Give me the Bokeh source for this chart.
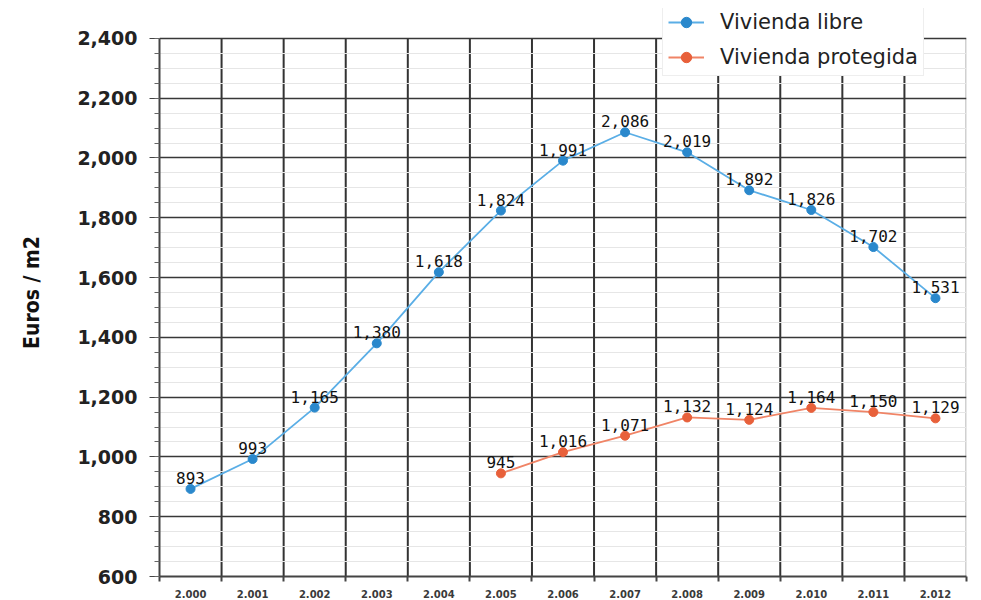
from bokeh.plotting import figure
from bokeh.models import FixedTicker, ColumnDataSource, LabelSet, Legend, LegendItem
from bokeh.core.properties import value
from bokeh.embed import file_html
from bokeh.resources import INLINE

years = ["2.000", "2.001", "2.002", "2.003", "2.004", "2.005", "2.006",
         "2.007", "2.008", "2.009", "2.010", "2.011", "2.012"]
libre = [893, 993, 1165, 1380, 1618, 1824, 1991, 2086, 2019, 1892, 1826, 1702, 1531]
protegida_years = ["2.005", "2.006", "2.007", "2.008", "2.009", "2.010", "2.011", "2.012"]
protegida = [945, 1016, 1071, 1132, 1124, 1164, 1150, 1129]
y_ticks = [600, 800, 1000, 1200, 1400, 1600, 1800, 2000, 2200, 2400]

xi = list(range(len(years)))
xp = [years.index(y) for y in protegida_years]
bounds_x = [i - 0.5 for i in range(len(years) + 1)]
y_lo, y_hi = y_ticks[0], y_ticks[-1]

def fmt(v):
    return f"{v:,}"

src_l = ColumnDataSource(dict(x=xi, y=libre, t=[fmt(v) for v in libre]))
src_p = ColumnDataSource(dict(x=xp, y=protegida, t=[fmt(v) for v in protegida]))

p = figure(width=975, height=600, output_backend="svg", toolbar_location=None,
           x_range=(-0.5, len(years) - 0.5), y_range=(y_lo, y_hi + 100),
           min_border_left=159, min_border_right=9, min_border_top=8, min_border_bottom=20)
p.outline_line_color = None
p.background_fill_color = "white"
p.border_fill_color = "white"

# x axis
xt = FixedTicker(ticks=xi, minor_ticks=bounds_x)
p.xaxis.ticker = xt
p.xaxis.major_label_overrides = {i: y for i, y in enumerate(years)}
p.xaxis.major_tick_line_color = None
p.xaxis.major_tick_in = 0
p.xaxis.major_tick_out = 0
p.xaxis.minor_tick_in = 0
p.xaxis.minor_tick_out = 5
p.xaxis.minor_tick_line_color = "#444444"
p.xaxis.minor_tick_line_width = 2
p.xaxis.axis_line_color = "#444444"
p.xaxis.axis_line_width = 2
p.xaxis.major_label_text_font = "DejaVu Sans"
p.xaxis.major_label_text_font_style = "bold"
p.xaxis.major_label_text_font_size = "10px"
p.xaxis.major_label_text_color = "#3a3a3a"
p.xaxis.major_label_standoff = 8

p.xgrid.grid_line_color = None

# vertical grid lines between categories (only between the y-axis limits)
p.segment(x0=bounds_x[1:-1], y0=[y_lo] * (len(bounds_x) - 2),
          x1=bounds_x[1:-1], y1=[y_hi] * (len(bounds_x) - 2),
          line_color="#333333", line_width=2, level="underlay")
p.segment(x0=[bounds_x[-1]], y0=[y_lo], x1=[bounds_x[-1]], y1=[y_hi],
          line_color="#d0d0d0", line_width=3, level="underlay")

# y axis
yt = FixedTicker(ticks=y_ticks, minor_ticks=list(range(y_lo, y_hi + 1, 50)))
p.yaxis.ticker = yt
p.yaxis.bounds = (y_lo, y_hi)
p.yaxis.major_label_overrides = {v: fmt(v) for v in y_ticks}
p.yaxis.major_label_text_font = "DejaVu Sans"
p.yaxis.major_label_text_font_style = "bold"
p.yaxis.major_label_text_font_size = "19px"
p.yaxis.major_label_text_color = "#222222"
p.yaxis.major_label_standoff = 12
p.yaxis.major_tick_in = 0
p.yaxis.major_tick_out = 10
p.yaxis.minor_tick_in = 0
p.yaxis.minor_tick_out = 5
p.yaxis.major_tick_line_color = "#444444"
p.yaxis.minor_tick_line_color = "#666666"
p.yaxis.axis_line_color = "#444444"
p.yaxis.axis_line_width = 2
p.yaxis.axis_label = "Euros / m2"
p.yaxis.axis_label_text_font = "'Liberation Sans Narrow', 'DejaVu Sans Condensed', 'Roboto Condensed', sans-serif"
p.yaxis.axis_label_text_font_style = "bold"
p.yaxis.axis_label_text_font_size = "21px"
p.yaxis.axis_label_text_color = "#111111"
p.yaxis.axis_label_standoff = 30

p.ygrid.ticker = yt
p.ygrid.grid_line_color = "#383838"
p.ygrid.grid_line_width = 1.4
p.ygrid.minor_grid_line_color = "#e6e6e6"
p.ygrid.minor_grid_line_width = 1

blue_line, blue_dot = "#5aaee6", "#2a88cc"
red_line, red_dot = "#f08466", "#e8603a"

l1 = p.line("x", "y", source=src_l, line_color=blue_line, line_width=1.8)
m1 = p.scatter("x", "y", marker="circle", size=9, source=src_l,
               fill_color=blue_dot, line_color=blue_dot)
l2 = p.line("x", "y", source=src_p, line_color=red_line, line_width=1.8)
m2 = p.scatter("x", "y", marker="circle", size=9, source=src_p,
               fill_color=red_dot, line_color=red_dot)

for src in (src_l, src_p):
    p.add_layout(LabelSet(x="x", y="y", text="t", source=src, y_offset=5,
                          text_align="center", text_baseline="bottom",
                          text_font=value("DejaVu Sans Mono"),
                          text_font_size=value("16px"), text_color="#111111"))

legend = Legend(items=[LegendItem(label="Vivienda libre", renderers=[l1, m1]),
                       LegendItem(label="Vivienda protegida", renderers=[l2, m2])],
                location=(503, 500))
legend.label_text_font = "DejaVu Sans"
legend.label_text_font_size = "21px"
legend.label_text_color = "#222222"
legend.background_fill_color = "white"
legend.background_fill_alpha = 1
legend.border_line_color = "#dddddd"
legend.glyph_width = 36
legend.glyph_height = 26
legend.label_height = 26
legend.spacing = 9
legend.padding = 5
legend.margin = 0
legend.label_standoff = 16
p.add_layout(legend, "center")

open("out.html", "w").write(file_html(p, INLINE))
